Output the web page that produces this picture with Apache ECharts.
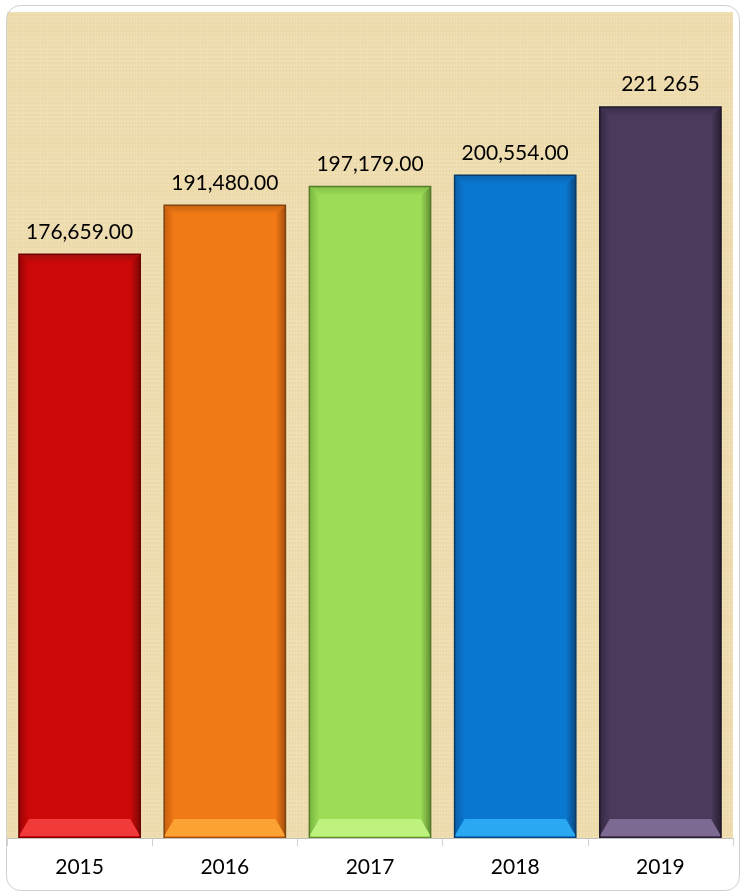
<!DOCTYPE html>
<html>
<head>
<meta charset="utf-8">
<script src="https://cdn.jsdelivr.net/npm/echarts@6/dist/echarts.min.js"></script>
<style>
html,body{margin:0;padding:0;background:#fff;}
#chart{width:740px;height:892px;}
</style>
</head>
<body>
<div id="chart"></div>
<script>
// ---- data ----
var categories = ['2015', '2016', '2017', '2018', '2019'];
var values = [176659, 191480, 197179, 200554, 221265];
var valueLabels = ['176,659.00', '191,480.00', '197,179.00', '200,554.00', '221 265'];

// ---- styles ----
var barStyles = [
  {face:'#cc0808', top:'#a20c0c', left:'#9a0404', right:'#7e0606', bottom:'#f23a3a', edge:'#6e0000'},
  {face:'#f27a16', top:'#c9630f', left:'#c85e0c', right:'#a44e0c', bottom:'#fba233', edge:'#7e4410'},
  {face:'#9cdc56', top:'#84c046', left:'#78b640', right:'#618f32', bottom:'#bdf27e', edge:'#557a2a'},
  {face:'#0a78d0', top:'#0a63ae', left:'#0a5ea8', right:'#0a4780', bottom:'#2aa8f2', edge:'#0a3a66'},
  {face:'#4a3a5c', top:'#3a2c4b', left:'#352843', right:'#281f33', bottom:'#7c6a92', edge:'#1f1828'}
];

// parchment texture (decorative only)
function makeParchment() {
  var c = document.createElement('canvas');
  c.width = 160; c.height = 160;
  var g = c.getContext('2d');
  g.fillStyle = '#eedcae';
  g.fillRect(0, 0, 160, 160);
  var i;
  for (i = 0; i < 160; i += 3) {
    var a = 0.04 + 0.05 * Math.abs(Math.sin(i * 1.7));
    g.fillStyle = 'rgba(200,170,100,' + a.toFixed(3) + ')';
    g.fillRect(i, 0, 1, 160);
  }
  for (i = 0; i < 160; i += 4) {
    var b = 0.08 + 0.08 * Math.abs(Math.cos(i * 2.3));
    g.fillStyle = 'rgba(255,248,225,' + b.toFixed(3) + ')';
    g.fillRect(0, i, 160, 2);
  }
  return c;
}

var chart = echarts.init(document.getElementById('chart'), null, {renderer: 'canvas'});

function grad(x0, y0, x1, y1, c0, c1) {
  return new echarts.graphic.LinearGradient(x0, y0, x1, y1, [
    {offset: 0, color: c0}, {offset: 1, color: c1}]);
}

var option = {
  backgroundColor: '#ffffff',
  animation: false,
  graphic: [{
    type: 'rect',
    left: 4, top: 3,
    shape: {width: 733, height: 885, r: 14},
    style: {fill: 'none', stroke: '#cfcfcf', lineWidth: 1},
    z: 100
  }],
  grid: {
    left: 7, right: 7, top: 12, bottom: 54,
    show: true,
    borderWidth: 0,
    backgroundColor: {image: makeParchment(), repeat: 'repeat'}
  },
  xAxis: {
    type: 'category',
    data: categories,
    axisLine: {show: true, lineStyle: {color: '#c0c0c0', width: 1}},
    axisTick: {show: true, length: 8, lineStyle: {color: '#d0d0d0'}},
    axisLabel: {
      color: '#000',
      fontFamily: 'Lato',
      fontSize: 21,
      margin: 19
    },
    z: 10
  },
  yAxis: {
    type: 'value',
    min: 0, max: 250000,
    show: false,
    splitLine: {show: false}
  },
  series: [{
    type: 'custom',
    data: values.map(function (v, i) { return [i, v]; }),
    encode: {x: 0, y: 1},
    renderItem: function (params, api) {
      var i = api.value(0), v = api.value(1);
      var topPt = api.coord([i, v]);
      var botPt = api.coord([i, 0]);
      var w = api.size([1, 0])[0] * 0.835;
      var x0 = topPt[0] - w / 2, x1 = topPt[0] + w / 2;
      var y0 = topPt[1], y1 = botPt[1];
      var bs = 10, bt = 9, bb = 19;
      var s = barStyles[i];
      return {
        type: 'group',
        children: [
          {type: 'rect', shape: {x: x0, y: y0, width: w, height: y1 - y0},
            style: {fill: s.face}},
          {type: 'polygon', shape: {points: [[x0, y0], [x1, y0], [x1 - bs, y0 + bt], [x0 + bs, y0 + bt]]},
            style: {fill: grad(0, 0, 0, 1, s.top, s.face)}},
          {type: 'polygon', shape: {points: [[x0, y0], [x0 + bs, y0 + bt], [x0 + bs, y1 - bb], [x0, y1]]},
            style: {fill: grad(0, 0, 1, 0, s.left, s.face)}},
          {type: 'polygon', shape: {points: [[x1, y0], [x1, y1], [x1 - bs, y1 - bb], [x1 - bs, y0 + bt]]},
            style: {fill: grad(1, 0, 0, 0, s.right, s.face)}},
          {type: 'polygon', shape: {points: [[x0, y1 - 2], [x0 + bs, y1 - bb], [x1 - bs, y1 - bb], [x1, y1 - 2]]},
            style: {fill: grad(0, 0, 0, 1, s.bottom, s.bottom)}},
          {type: 'rect', shape: {x: x0, y: y0, width: w, height: y1 - y0},
            style: {fill: 'none', stroke: s.edge, lineWidth: 1.5}},
          {type: 'text', x: topPt[0], y: y0 - 12,
            style: {text: valueLabels[i], fill: '#000', fontFamily: 'Lato', fontSize: 21,
              align: 'center', verticalAlign: 'bottom'}}
        ]
      };
    }
  }]
};

chart.setOption(option);
</script>
</body>
</html>
